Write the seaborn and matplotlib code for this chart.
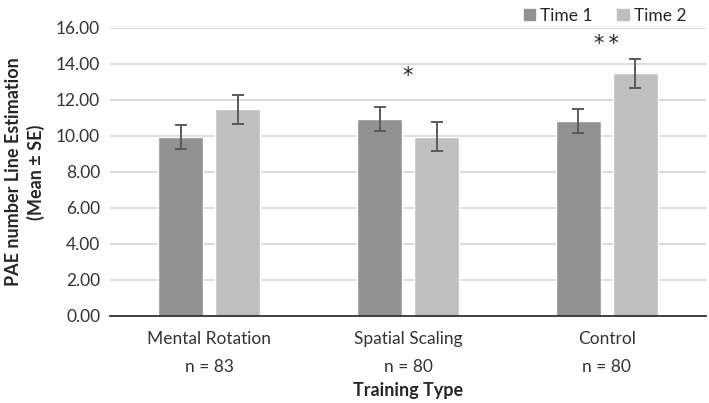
import matplotlib
matplotlib.use("Agg")
import matplotlib.pyplot as plt
import seaborn as sns
import numpy as np
import pandas as pd

# data
categories = ["Mental Rotation", "Spatial Scaling", "Control"]
n_labels = ["n = 83", "n = 80", "n = 80"]
time1_mean = [9.93, 10.93, 10.82]
time2_mean = [11.47, 9.95, 13.47]
time1_se = [0.67, 0.68, 0.66]
time2_se = [0.79, 0.80, 0.79]
stars = ["", "*", "*\u2009*"]
star_y = [0, 13.35, 15.1]
yticks = [0, 2, 4, 6, 8, 10, 12, 14, 16]

df = pd.DataFrame({
    "Training": categories * 2,
    "Time": ["Time 1"] * 3 + ["Time 2"] * 3,
    "Mean": time1_mean + time2_mean,
    "SE": time1_se + time2_se,
})

sns.set_style("white")
plt.rcParams["font.family"] = ["Lato", "DejaVu Sans"]

fig = plt.figure(figsize=(7.09, 4.03), dpi=100)
ax = fig.add_axes([0.155, 0.216, 0.841, 0.715])

palette = {"Time 1": "#929292", "Time 2": "#bfbfbf"}
sns.barplot(data=df, x="Training", y="Mean", hue="Time", palette=palette,
            width=0.574, gap=0.21, errorbar=None, saturation=1, ax=ax,
            legend=False, zorder=2)

# error bars at bar centres
for cont, ses in zip(ax.containers, [time1_se, time2_se]):
    for bar, se in zip(cont, ses):
        cx = bar.get_x() + bar.get_width() / 2
        ax.errorbar(cx, bar.get_height(), yerr=se, color="#5a5a5a",
                    capsize=4.5, elinewidth=1.4, capthick=1.4, zorder=3)

for i, s in enumerate(stars):
    if s:
        ax.text(i, star_y[i], s, ha="center", va="center", fontsize=15,
                color="#222222", family="DejaVu Sans")

ax.set_ylim(0, 16)
ax.set_xlim(-0.5, 2.5)
ax.set_yticks(yticks)
ax.set_yticklabels([f"{v:.2f}" for v in yticks])
ax.set_xticks(range(3))
ax.set_xticklabels([f"{c}\n{n}" for c, n in zip(categories, n_labels)],
                   linespacing=1.9)
ax.tick_params(axis="both", length=0, labelsize=12.5, colors="#333333")
ax.tick_params(axis="x", pad=11)
ax.tick_params(axis="y", pad=7)
ax.yaxis.grid(True, color="#d9d9d9", linewidth=1.3, zorder=0)
ax.set_axisbelow(True)
for side in ["top", "right", "left"]:
    ax.spines[side].set_visible(False)
ax.spines["bottom"].set_color("#333333")
ax.spines["bottom"].set_linewidth(1.3)

ax.set_xlabel("Training Type", fontsize=13, fontweight="bold", labelpad=5)
ax.set_ylabel("PAE number Line Estimation\n(Mean ± SE)", fontsize=13,
              fontweight="bold", labelpad=8, linespacing=1.3)

handles = [plt.Rectangle((0, 0), 1, 1, color=palette[k]) for k in palette]
fig.legend(handles, list(palette), loc="upper right", ncol=2, frameon=False,
           fontsize=12.5, bbox_to_anchor=(0.99, 1.02), handlelength=0.65,
           handleheight=0.65, handletextpad=0.3, columnspacing=1.4)

fig.savefig("out.png", dpi=100)
